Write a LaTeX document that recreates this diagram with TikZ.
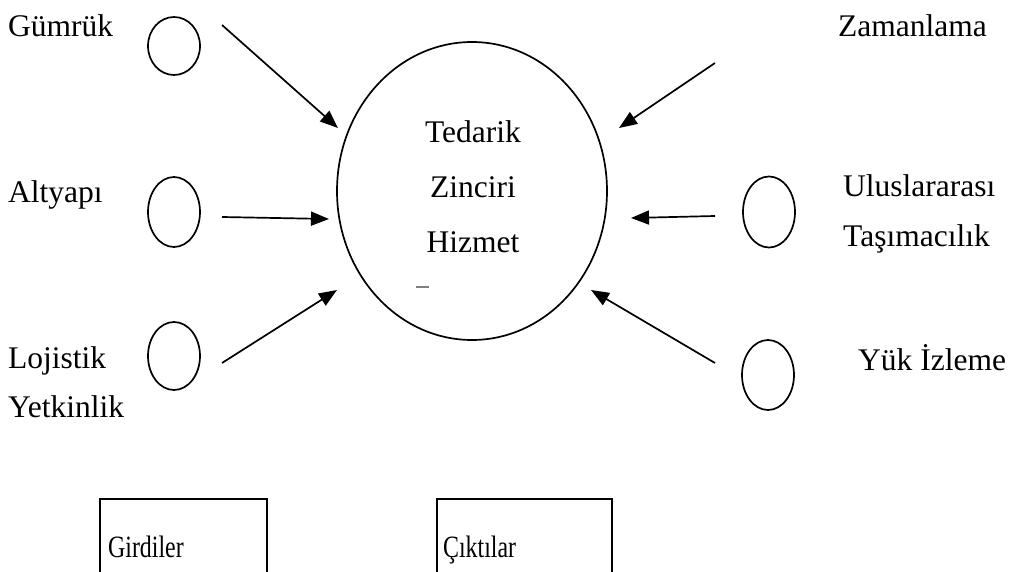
\documentclass[tikz,border=0pt]{standalone}
\usepackage{fontspec}
\setmainfont{Liberation Serif}
\usetikzlibrary{shapes.geometric,arrows.meta}
\begin{document}
\begin{tikzpicture}[x=1pt,y=-1pt,
  lbl/.style={anchor=base west,inner sep=0pt,font=\fontsize{31.5}{38}\selectfont},
  clbl/.style={anchor=base,inner sep=0pt,font=\fontsize{31.5}{38}\selectfont},
  blbl/.style={anchor=base west,inner sep=0pt,font=\fontsize{31}{36}\selectfont,xscale=0.77},
  oval/.style={draw,ellipse,line width=1.7pt,inner sep=0pt,minimum width=52pt},
  arr/.style={line width=1.7pt,-{Triangle[length=18pt,width=14pt]}},
  box/.style={line width=1.7pt}]
\useasboundingbox (0,0) rectangle (1010,572);
% central circle
\node[oval,minimum width=270pt,minimum height=298pt] (core) at (472,191) {};
\node[clbl] (t1) at (473,143) {Tedarik};
\node[clbl] (t2) at (473,198) {Zinciri};
\node[clbl] (t3) at (473,253) {Hizmet};
\draw[line width=1.2pt,gray] (416,287) -- (429,287);
% small ovals
\node[oval,minimum height=58pt] (o1) at (174,46) {};
\node[oval,minimum height=70pt] (o2) at (174,212) {};
\node[oval,minimum height=68pt] (o3) at (174,356) {};
\node[oval,minimum height=71pt] (o5) at (769,212) {};
\node[oval,minimum height=70pt] (o6) at (768,375) {};
% labels
\node[lbl] (l1) at (8,37) {Gümrük};
\node[lbl] (l2) at (8,203) {Altyapı};
\node[lbl] (l3a) at (8,368) {Lojistik};
\node[lbl] (l3b) at (8,417) {Yetkinlik};
\node[lbl] (l4) at (838,37) {Zamanlama};
\node[lbl] (l5a) at (843,197) {Uluslararası};
\node[lbl] (l5b) at (843,247) {Taşımacılık};
\node[lbl] (l6) at (858,370) {Yük İzleme};
% arrow end points
\coordinate (s1) at (222,25);  \coordinate (e1) at (338,128);
\coordinate (s2) at (222,217); \coordinate (e2) at (329,219);
\coordinate (s3) at (222,363); \coordinate (e3) at (337,290);
\coordinate (s4) at (715,63);  \coordinate (e4) at (619,128);
\coordinate (s5) at (715,216); \coordinate (e5) at (631,218);
\coordinate (s6) at (715,363); \coordinate (e6) at (591,290);
\draw[arr] (s1) -- (e1);
\draw[arr] (s2) -- (e2);
\draw[arr] (s3) -- (e3);
\draw[arr] (s4) -- (e4);
\draw[arr] (s5) -- (e5);
\draw[arr] (s6) -- (e6);
% boxes (bottom cut off)
\draw[box] (100,574) -- (100,499) -- (267,499) -- (267,574);
\draw[box] (437,574) -- (437,499) -- (612,499) -- (612,574);
\node[blbl] (g) at (108,557) {Girdiler};
\node[blbl] (c) at (443,557) {Çıktılar};
\end{tikzpicture}
\end{document}
